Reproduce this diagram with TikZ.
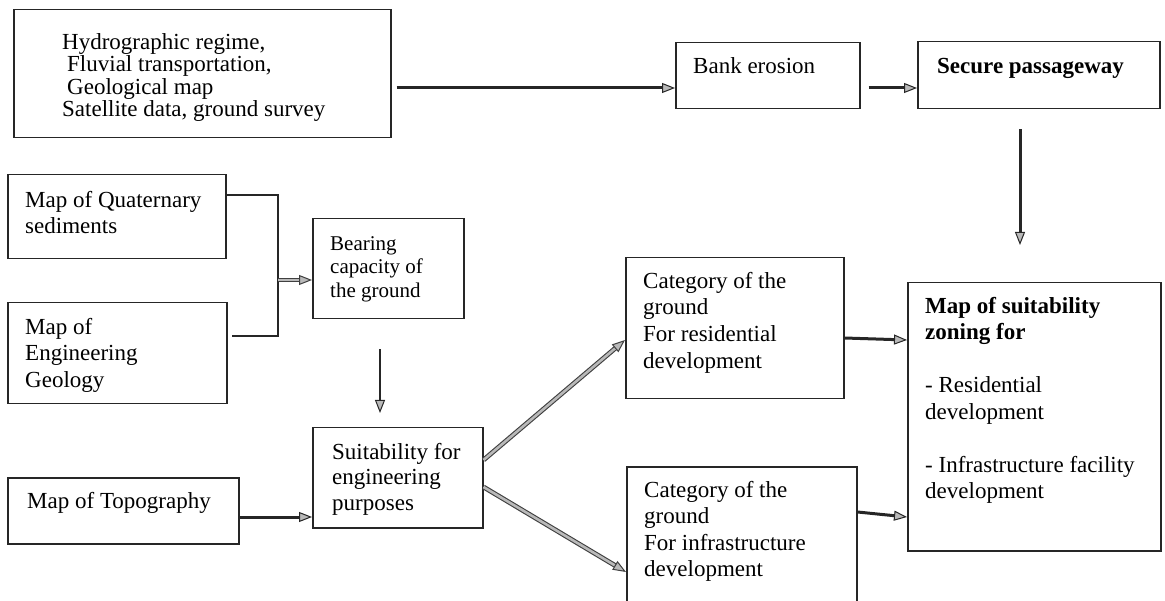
\documentclass[tikz,border=0pt]{standalone}
\usepackage{fontspec}
\setmainfont{Liberation Serif}
\usetikzlibrary{arrows.meta}
\tikzset{
  gtip/.tip={Triangle[length=13pt,width=10pt,fill=gray!55,line width=1pt]},
  box/.style={draw=black!85, line width=1.5pt, rectangle, inner sep=0pt, anchor=north west},
  txt/.style={inner sep=0pt, align=left, anchor=north west, font=\fontsize{23}{26.5}\selectfont},
  arr/.style={draw=black!85, line width=3pt, -gtip},
  thinarr/.style={draw=black!85, line width=1.4pt, -gtip},
  dbl/.style={draw=black!75, line width=1.1pt, double=gray!55, double distance=2.6pt, -gtip},
  bracket/.style={draw=black!85, line width=2.6pt}
}
\begin{document}
\begin{tikzpicture}[x=1pt,y=-1pt]
\useasboundingbox (0,0) rectangle (1165,601);
\clip (0,0) rectangle (1165,601);
% boxes
\node[box, minimum width=377pt, minimum height=128pt] (src) at (13,9) {};
\node[box, minimum width=184pt, minimum height=66pt] (bank) at (675,42) {};
\node[box, minimum width=242pt, minimum height=67pt] (secure) at (917,41) {};
\node[box, minimum width=218pt, minimum height=84pt] (quat) at (7,174) {};
\node[box, minimum width=219pt, minimum height=101pt] (eng) at (7,302) {};
\node[box, minimum width=151pt, minimum height=100pt] (bear) at (312,218) {};
\node[box, minimum width=231pt, minimum height=66pt] (topo) at (7,477) {};
\node[box, minimum width=170pt, minimum height=100pt] (suit) at (312,427) {};
\node[box, minimum width=218pt, minimum height=141pt] (res) at (625,257) {};
\node[box, minimum width=230pt, minimum height=160pt] (infra) at (626,466) {};
\node[box, minimum width=253pt, minimum height=268pt] (map) at (907,282) {};
% texts
\node[txt, font=\fontsize{23}{22.5}\selectfont] (srct) at (62,29) {\rule{0pt}{20pt}Hydrographic regime,\\\hspace*{5pt}Fluvial transportation,\\\hspace*{5pt}Geological map\\Satellite data, ground survey};
\node[txt] (bankt) at (693,53) {\rule{0pt}{20pt}Bank erosion};
\node[txt] (securet) at (937,53) {\rule{0pt}{20pt}\textbf{Secure passageway}};
\node[txt] (quatt) at (25,187) {\rule{0pt}{20pt}Map of Quaternary\\sediments};
\node[txt] (engt) at (25,314) {\rule{0pt}{20pt}Map of\\Engineering\\Geology};
\node[txt, font=\fontsize{21}{23.5}\selectfont] (beart) at (330,230) {\rule{0pt}{20pt}Bearing\\capacity of\\the ground};
\node[txt] (topot) at (27,488) {\rule{0pt}{20pt}Map of Topography};
\node[txt, font=\fontsize{23}{25.5}\selectfont] (suitt) at (332,439) {\rule{0pt}{20pt}Suitability for\\engineering\\purposes};
\node[txt, font=\fontsize{23}{26.7}\selectfont] (rest) at (643,268) {\rule{0pt}{20pt}Category of the\\ground\\For residential\\development};
\node[txt] (infrat) at (644,477) {\rule{0pt}{20pt}Category of the\\ground\\For infrastructure\\development};
\node[txt] (mapt) at (925,293) {\rule{0pt}{20pt}\textbf{Map of suitability}\\\textbf{zoning for}\\[26.5pt]- Residential\\development\\[26.5pt]- Infrastructure facility\\development};
% junction coordinates
\coordinate (jq) at (278,195);
\coordinate (je) at (278,336);
\coordinate (jm) at (278,280);
\coordinate (s2m) at (1020,245);
% connectors
\draw[arr, shorten <=5pt] (src.east |- 0,88) -- (bank.west |- 0,88);
\draw[arr, shorten <=8pt] (bank.east |- 0,88) -- (secure.west |- 0,88);
\draw[arr, shorten <=20pt] (secure.south -| s2m) -- (s2m);
\draw[bracket] (quat.east |- jq) -- (jq) -- (je) -- ([xshift=4pt]eng.east |- je);
\draw[dbl] (jm) -- (bear.west |- jm);
\draw[thinarr, shorten <=30pt, shorten >=14pt] (bear.south -| 380,0) -- (suit.north -| 380,0);
\draw[arr] (topo.east |- 0,517) -- (suit.west |- 0,517);
\draw[dbl] (suit.east |- 0,460) -- (res.west |- 0,340);
\draw[dbl] (suit.east |- 0,487) -- (infra.west |- 0,572);
\draw[arr] (res.east |- 0,338) -- (map.west |- 0,340);
\draw[arr] (infra.east |- 0,512) -- (map.west |- 0,517);
\end{tikzpicture}
\end{document}
